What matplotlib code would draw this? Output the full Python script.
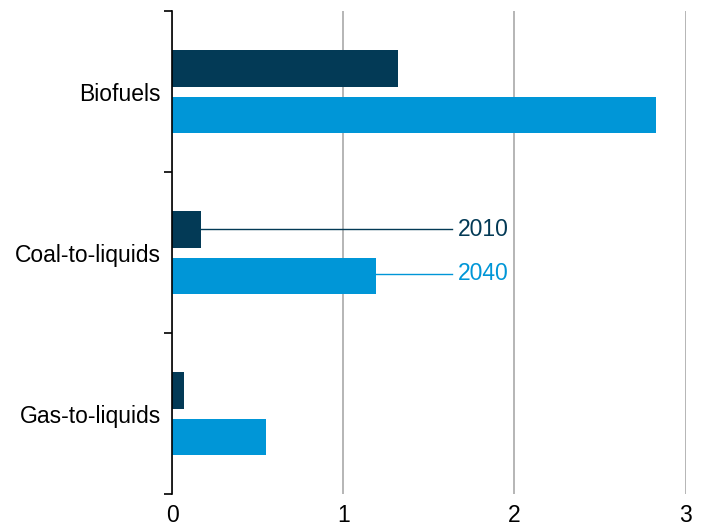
import matplotlib

matplotlib.use("Agg")
import matplotlib.pyplot as plt
import numpy as np

categories = ["Biofuels", "Coal-to-liquids", "Gas-to-liquids"]
series_names = ["2010", "2040"]
values_2010 = [1.32, 0.17, 0.07]
values_2040 = [2.83, 1.19, 0.55]
x_ticks = [0, 1, 2, 3]

DARK = "#033a56"
LIGHT = "#0096d7"
FS = 16.5

plt.rcParams["font.family"] = ["Liberation Sans", "DejaVu Sans"]

fig = plt.figure(figsize=(7.01, 5.27), dpi=100)
ax = fig.add_axes([0.2454, 0.0626, 0.7326, 0.9165])

y = np.arange(len(categories))
h = 0.224
off = 0.143
ax.barh(y - off, values_2010, height=h, color=DARK, zorder=3)
ax.barh(y + off, values_2040, height=h, color=LIGHT, zorder=3)

ax.set_xlim(0, 3)
ax.set_ylim(2.5, -0.5)
ax.set_xticks(x_ticks)
ax.set_xticklabels([str(t) for t in x_ticks], fontsize=FS)
ax.tick_params(axis="x", length=0, pad=7)
ax.grid(axis="x", color="#b5b5b5", linewidth=1.4, zorder=0)

ax.set_yticks(y)
ax.set_yticklabels(categories, fontsize=FS)
ax.set_yticks(np.arange(-0.5, len(categories)), minor=True)
ax.tick_params(axis="y", which="major", length=0, pad=8)
ax.tick_params(axis="y", which="minor", length=6, width=1.2, color="black")

for side in ["top", "right", "bottom"]:
    ax.spines[side].set_visible(False)
ax.spines["left"].set_linewidth(1.2)
ax.spines["left"].set_zorder(4)

# direct labels on the coal-to-liquids pair
line_end = 1.637
ax.plot([values_2010[1], line_end], [1 - off, 1 - off], color=DARK, linewidth=1, zorder=2)
ax.plot([values_2040[1], line_end], [1 + off - 0.01, 1 + off - 0.01], color=LIGHT, linewidth=1, zorder=2)
ax.text(line_end + 0.03, 1 - off, series_names[0], color=DARK, fontsize=FS, va="center", ha="left")
ax.text(line_end + 0.03, 1 + off - 0.01, series_names[1], color=LIGHT, fontsize=FS, va="center", ha="left")

fig.savefig("out.png", dpi=100)
